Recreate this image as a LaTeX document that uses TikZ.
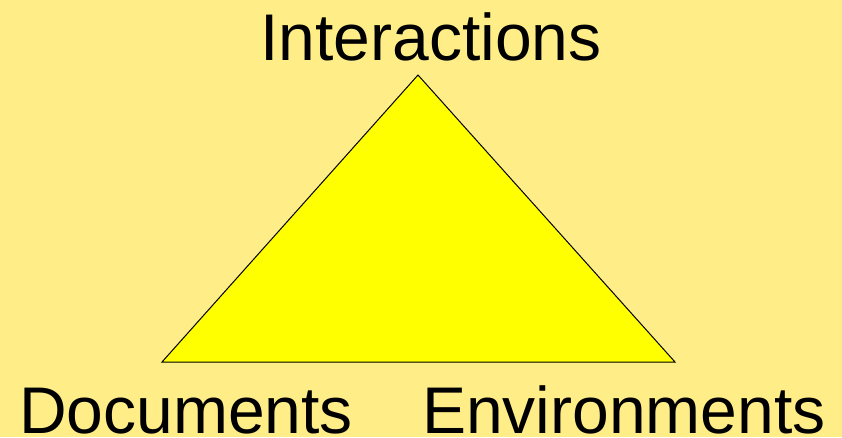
\documentclass[tikz,border=0pt]{standalone}
\usepackage{fontspec}
\setmainfont{Liberation Sans}
\usetikzlibrary{positioning}
\definecolor{paper}{HTML}{FFEE88}
\definecolor{wedge}{HTML}{FFFF00}

\begin{document}
\begin{tikzpicture}[x=0.75pt, y=-0.75pt]
\fill[paper] (0,0) rectangle (842,437);
\useasboundingbox (0,0) rectangle (842,437);
\coordinate (top) at (418,75);
\coordinate (left) at (162,362);
\coordinate (right) at (675,362);
\draw[fill=wedge, line width=0.75pt, line join=miter] (top) -- (left) -- (right) -- cycle;
\node[anchor=base, inner sep=0pt, font=\fontsize{49.5pt}{55pt}\selectfont] (inter) at (431,60) {Interactions};
\node[anchor=base, inner sep=0pt, font=\fontsize{49.5pt}{55pt}\selectfont] (docs) at (186,433) {Documents};
\node[anchor=base, inner sep=0pt, font=\fontsize{49.5pt}{55pt}\selectfont] (envs) at (624,433) {Environments};
\end{tikzpicture}
\end{document}
